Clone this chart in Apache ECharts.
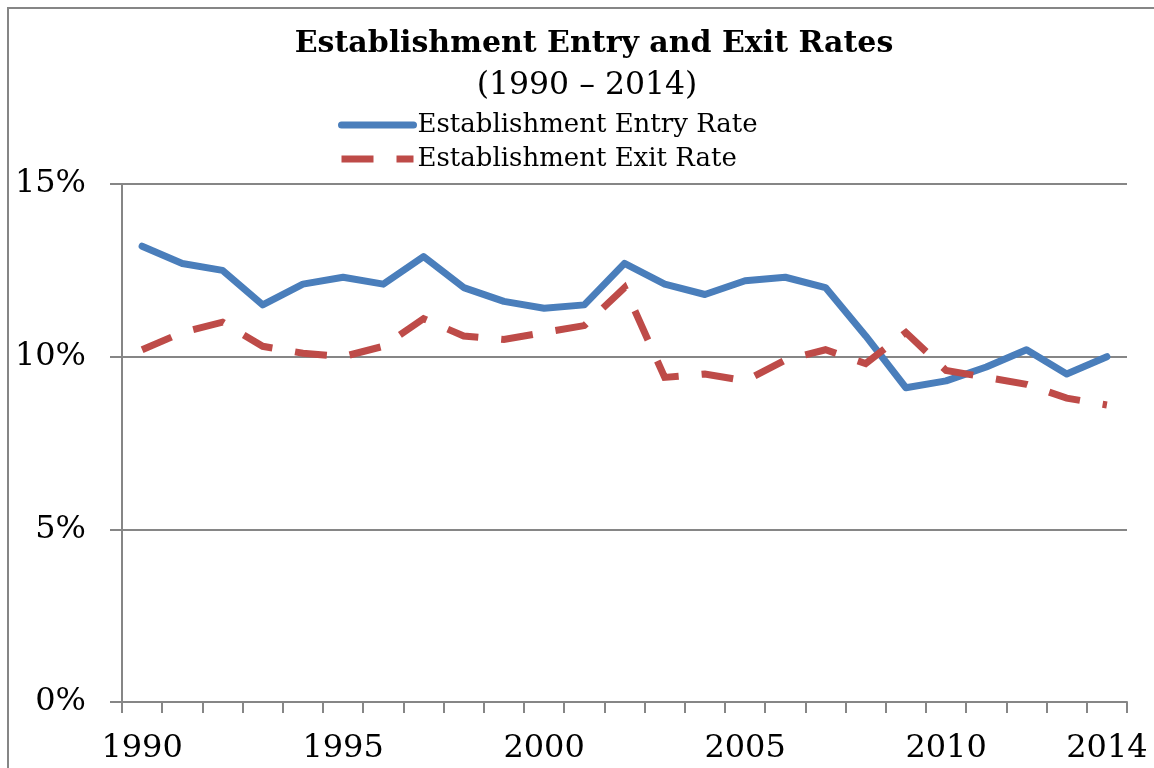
<!DOCTYPE html>
<html>
<head>
<meta charset="utf-8">
<style>
html,body{margin:0;padding:0;background:#fff;}
#chart{width:1154px;height:768px;}
</style>
<script src="https://cdn.jsdelivr.net/npm/echarts@6/dist/echarts.min.js"></script>
</head>
<body>
<div id="chart"></div>
<script>
const years = ['1990','1991','1992','1993','1994','1995','1996','1997','1998','1999','2000','2001','2002','2003','2004','2005','2006','2007','2008','2009','2010','2011','2012','2013','2014'];
const entryRate = [13.2,12.7,12.5,11.5,12.1,12.3,12.1,12.9,12.0,11.6,11.4,11.5,12.7,12.1,11.8,12.2,12.3,12.0,10.6,9.1,9.3,9.7,10.2,9.5,10.0];
const exitRate = [10.2,10.7,11.0,10.3,10.1,10.0,10.3,11.1,10.6,10.5,10.7,10.9,12.0,9.4,9.5,9.3,9.9,10.2,9.8,10.7,9.6,9.4,9.2,8.8,8.6];
const yTicks = [0,5,10,15];

const FONT = '"DejaVu Serif", "Liberation Serif", serif';
const chart = echarts.init(document.getElementById('chart'), null, {renderer:'canvas'});
chart.setOption({
  animation:false,
  backgroundColor:'#fff',
  graphic:[{type:'rect', z:-1, shape:{x:8,y:8,width:1300,height:900}, style:{fill:'none', stroke:'#868686', lineWidth:2}}],
  title:[
    {text:'Establishment Entry and Exit Rates', left:589, top:24, textAlign:'center',
     textStyle:{fontFamily:FONT, fontWeight:'bold', fontSize:30, color:'#000'}},
    {text:'(1990 – 2014)', left:582, top:65, textAlign:'center',
     textStyle:{fontFamily:FONT, fontWeight:'normal', fontSize:31.5, color:'#000'}}
  ],
  legend:{
    orient:'vertical', left:333, top:107, itemWidth:72, itemHeight:14, itemGap:8,
    itemStyle:{opacity:0},
    lineStyle:{width:7, opacity:1},
    textStyle:{fontFamily:FONT, fontSize:26, color:'#000', padding:[0,0,0,-1]},
    data:['Establishment Entry Rate','Establishment Exit Rate']
  },
  grid:{left:122, right:27, top:184, bottom:66, containLabel:false},
  xAxis:{
    type:'category', data:years, boundaryGap:true,
    axisLine:{lineStyle:{color:'#868686', width:2}},
    axisTick:{show:true, interval:0, length:11, lineStyle:{color:'#868686', width:2}},
    axisLabel:{interval:function(i){return i%5===0 || i===years.length-1;}, margin:31,
      fontFamily:FONT, fontSize:32, color:'#000'},
    splitLine:{show:false}
  },
  yAxis:{
    type:'value', min:0, max:15, interval:5,
    axisLine:{show:true, lineStyle:{color:'#868686', width:2}},
    axisTick:{show:true, length:12, lineStyle:{color:'#868686', width:2}},
    axisLabel:{formatter:function(v){return yTicks.indexOf(v)>=0 ? v+'%' : '';}, margin:36,
      fontFamily:FONT, fontSize:32, color:'#000'},
    splitLine:{show:true, lineStyle:{color:'#868686', width:2}}
  },
  series:[
    {name:'Establishment Entry Rate', type:'line', data:entryRate, symbol:'none', smooth:false,
     itemStyle:{color:'#4A7EBB'},
     lineStyle:{color:'#4A7EBB', width:7, cap:'round', join:'round'}},
    {name:'Establishment Exit Rate', type:'line', data:exitRate, symbol:'none', smooth:false,
     itemStyle:{color:'#BE4B48'},
     lineStyle:{color:'#BE4B48', width:7, type:[32,23], cap:'butt', join:'miter'}}
  ]
});
</script>
</body>
</html>
